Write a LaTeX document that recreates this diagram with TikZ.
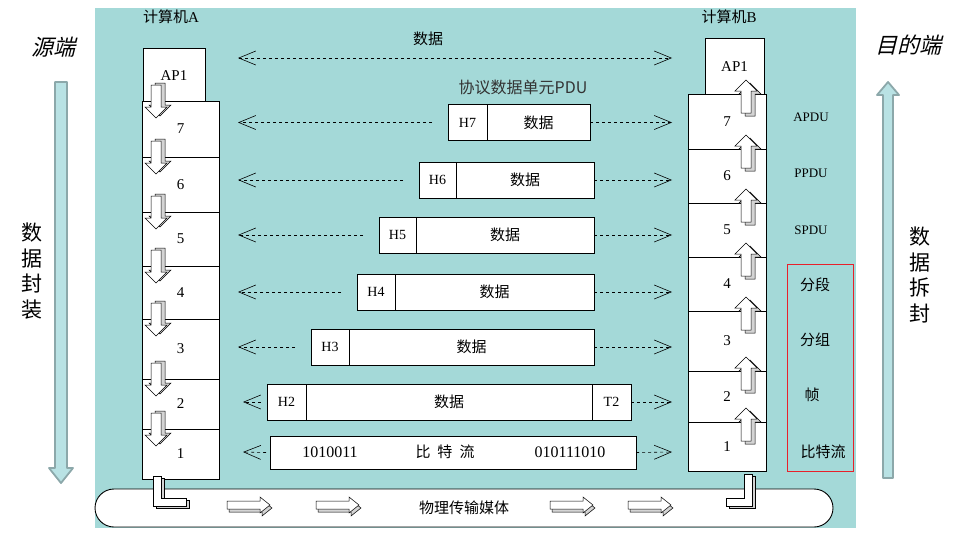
\documentclass[tikz,border=0pt]{standalone}
\usepackage{fontspec}
\setmainfont{Liberation Serif}
\newfontfamily\cjk{Noto Sans CJK SC}
\newfontfamily\cjkit[FakeSlant=0.25]{Noto Sans CJK SC}
\definecolor{mTeal}{HTML}{A4D9D8}
\definecolor{mAqua}{HTML}{B9E2E4}
\definecolor{mSlate}{HTML}{8CA8AA}
\definecolor{mShade}{HTML}{D4D4D4}
\definecolor{mRed}{HTML}{E8202A}
\usetikzlibrary{arrows.meta, positioning}

\begin{document}
\begin{tikzpicture}[x=1pt, y=-1pt,
  >={Straight Barb[length=17pt, width=14pt]},
  lay/.style={draw, fill=white, line width=0.8pt, minimum width=77pt,
              inner sep=0pt, outer sep=0pt, font=\fontsize{15}{17}\selectfont},
  pdu/.style={draw, fill=white, line width=0.8pt, minimum height=36pt, anchor=west,
              inner sep=0pt, outer sep=0pt, font=\fontsize{14}{16}\selectfont},
  cn/.style={font=\fontsize{15}{17}\cjk},
  pl/.style={font=\fontsize{13}{15}\selectfont},
  dl/.style={dash pattern=on 3pt off 3pt, line width=0.6pt},
  big/.style={fill=mAqua, draw=mSlate, line width=1.8pt, line join=round},
  darr/.pic={\foreach \dx/\dy/\c in {4/-2/mShade, 0/0/white}
    \filldraw[fill=\c, line width=0.5pt, shift={(\dx,\dy)}] (-5,0) -- (5,0) -- (5,22)
      -- (11,22) -- (0,33) -- (-11,22) -- (-5,22) -- cycle;},
  uarr/.pic={\foreach \dx/\dy/\c in {4/3/mShade, 0/0/white}
    \filldraw[fill=\c, line width=0.5pt, shift={(\dx,\dy)}] (-5,0) -- (5,0) -- (5,-22)
      -- (11,-22) -- (0,-33) -- (-11,-22) -- (-5,-22) -- cycle;},
  rarr/.pic={\foreach \dx/\dy/\c in {2/3/mShade, 0/0/white}
    \filldraw[fill=\c, line width=0.5pt, shift={(\dx,\dy)}] (0,-4) -- (33,-4) -- (33,-8)
      -- (43,0) -- (33,8) -- (33,4) -- (0,4) -- cycle;},
  lleft/.pic={\foreach \dx/\dy/\c in {3/2/mShade, 0/0/white}
    \filldraw[fill=\c, line width=0.5pt, shift={(\dx,\dy)}] (0,0) -- (8,0) -- (8,22)
      -- (33,22) -- (33,30) -- (0,30) -- cycle;},
  lright/.pic={\foreach \dx/\dy/\c in {3/2/mShade, 0/0/white}
    \filldraw[fill=\c, line width=0.5pt, shift={(\dx,\dy)}] (0,0) -- (-8,0) -- (-8,24)
      -- (-26,24) -- (-26,32) -- (0,32) -- cycle;}]
  \useasboundingbox (0,0) rectangle (960,538);
  \fill[mTeal] (95,8) rectangle (856,528);

  \node[font=\fontsize{22}{26}\cjkit] (src) at (53,47) {源端};
  \node[font=\fontsize{22}{26}\cjkit] (dst) at (908,45) {目的端};
  \filldraw[big] (55,82) -- (67,82) -- (67,468) -- (73,468) -- (61,483) -- (49,468)
    -- (55,468) -- cycle;
  \filldraw[big] (883,478) -- (893,478) -- (893,95) -- (899,95) -- (888,82) -- (877,95)
    -- (883,95) -- cycle;
  \node[font=\fontsize{21}{25.5}\cjk, align=center] (encap) at (32,271) {数\\据\\封\\装};
  \node[font=\fontsize{21}{25.5}\cjk, align=center] (decap) at (920,275) {数\\据\\拆\\封};

  \node[font=\fontsize{15}{17}\selectfont] (pca) at (171,17) {{\cjk 计算机}A};
  \node[font=\fontsize{15}{17}\selectfont] (pcb) at (729,17) {{\cjk 计算机}B};
  \node[lay, minimum width=62pt, minimum height=55pt] (apa) at (174,75.5) {AP1};
  \node[lay, minimum width=59pt, minimum height=57pt] (apb) at (734.5,66.5) {AP1};
  \foreach \i/\t/\b in {7/101/157, 6/157/212, 5/212/266, 4/266/319, 3/319/379,
                        2/379/429, 1/429/479}
    \node[lay, minimum height={(\b-\t)*1pt}] (a\i) at (180.5,{(\t+\b)/2}) {\i};
  \foreach \i/\t/\b in {7/94/149, 6/149/203, 5/203/257, 4/257/311, 3/311/371,
                        2/371/422, 1/422/471}
    \node[lay, minimum width=78pt, minimum height={(\b-\t)*1pt}] (b\i) at (727,{(\t+\b)/2}) {\i};
  \foreach \y in {101,157,212,266,319,379,429}
    \pic at (156,{\y-16}) {darr};
  \foreach \y in {94,149,203,257,311,371,422}
    \pic at (746,{\y+19}) {uarr};

  \node[cn] (data) at (428,39) {数据};
  \coordinate (tl) at (238,58);
  \coordinate (tr) at (672,58);
  \draw[dl, <->] (tl) -- (tr);
  \node[font=\fontsize{16}{18}\cjk, text=black!80] (pdu) at (523,87) {协议数据单元PDU};

  \foreach \i/\y/\x/\hw/\dw in {7/122.5/448/39/103, 6/180/419/37/138, 5/235/379/37/178,
                                4/292/357/38/199, 3/347/311/38/245}{
    \node[pdu, minimum width=\hw*1pt] (h\i) at (\x,\y) {H\i};
    \node[pdu, cn, minimum width=\dw*1pt] (d\i) at (h\i.east) {数据};
    \coordinate (l\i) at (238,\y);
    \coordinate (r\i) at (672,\y);
    \draw[dl, ->] ([xshift=-16pt]h\i.west) -- (l\i);
    \draw[dl, ->] (d\i.east) -- (r\i);
  }
  \node[pdu, minimum width=39pt] (h2) at (267,402) {H2};
  \node[pdu, cn, minimum width=286pt] (d2) at (h2.east) {数据};
  \node[pdu, minimum width=39pt] (t2) at (d2.east) {T2};
  \coordinate (l2) at (243,402);
  \coordinate (r2) at (672,402);
  \draw[dl, ->] ([xshift=-6pt]h2.west) -- (l2);
  \draw[dl, ->] (t2.east) -- (r2);

  \node[pdu, minimum width=366pt, minimum height=33pt] (bits) at (270,452.5) {};
  \node[font=\fontsize{16}{18}\selectfont] (b1) at (330,452) {1010011};
  \node[cn] (b2) at (445,452) {比\hspace{7pt}特\hspace{7pt}流};
  \node[font=\fontsize{16}{18}\selectfont] (b3) at (570,452) {010111010};
  \coordinate (l1) at (243,452);
  \coordinate (r1) at (672,452);
  \draw[dl, ->] ([xshift=-4pt]bits.west) -- (l1);
  \draw[dl, ->] (bits.east) -- (r1);

  \node[pl] (apdu) at (811,117) {APDU};
  \node[pl] (ppdu) at (811,173) {PPDU};
  \node[pl] (spdu) at (811,230) {SPDU};
  \draw[mRed, line width=0.8pt] (787,264) rectangle (853,471);
  \node[cn] (seg) at (815,285) {分段};
  \node[cn] (pkt) at (815,340) {分组};
  \node[cn] (frm) at (812,395) {帧};
  \node[cn] (bit) at (823,452) {比特流};

  \node[draw, fill=white, line width=0.9pt, rounded corners=19pt, minimum width=738pt,
        minimum height=38pt, cn] (med) at (464,508) {物理传输媒体};
  \pic at (153,476) {lleft};
  \pic at (752,474) {lright};
  \foreach \x in {227,316,550,628}
    \pic at (\x,505) {rarr};
\end{tikzpicture}
\end{document}
